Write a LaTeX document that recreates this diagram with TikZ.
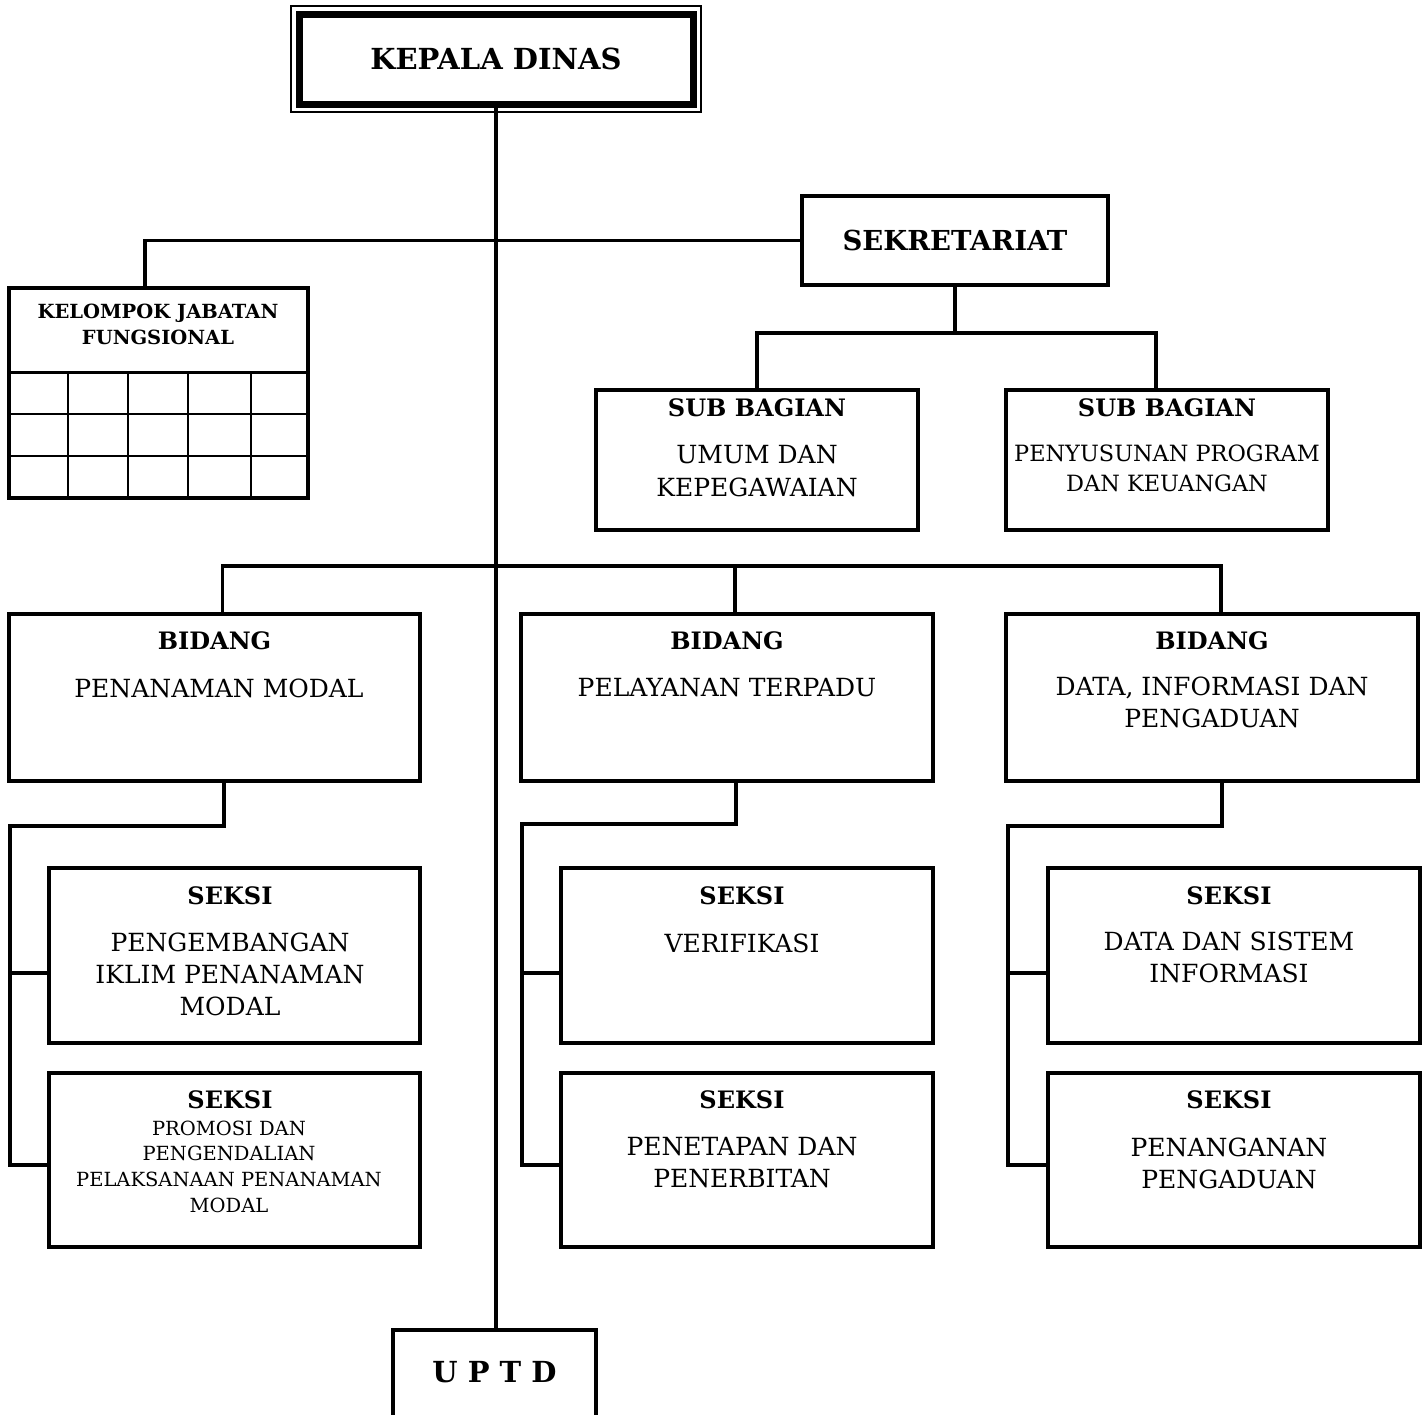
\documentclass[tikz,border=0pt]{standalone}
\usepackage{fontspec}
\setmainfont{DejaVu Serif}
\newcommand{\fs}[2]{\fontsize{#1}{#2}\selectfont}
\tikzset{
  box/.style={draw, line width=3.5pt, outer sep=0pt, inner sep=0pt, minimum width=#1},
  conn/.style={line width=3.5pt, line cap=rect},
  hd/.style={font=\bfseries\fs{24}{28}, inner sep=0pt},
  bd/.style={font=\fs{25}{32}, align=center, inner sep=0pt},
}
\begin{document}
\begin{tikzpicture}[x=1pt,y=-1pt]
\useasboundingbox (0,0) rectangle (1427,1414);
\clip (0,0) rectangle (1427,1414);
% top
\node[box=394pt, line width=7pt, minimum height=90pt, font=\bfseries\fs{29}{34}] (kd) at (496,59) {KEPALA DINAS};
\draw[line width=1.3pt] ([shift={(-8pt,8pt)}]kd.north west) rectangle ([shift={(8pt,-8pt)}]kd.south east);
\node[box=306pt, minimum height=89pt, font=\bfseries\fs{27.5}{32}] (sek) at (955,240.5) {SEKRETARIAT};
% kelompok jabatan fungsional
\node[box=299pt, minimum height=210pt] (kjf) at (158.5,393) {};
\node[font=\bfseries\fs{19.5}{26}, align=center, inner sep=0pt] (tkjf) at (158,324) {KELOMPOK JABATAN\\FUNGSIONAL};
\draw[line width=3pt] (9,372) -- (308,372);
\draw[line width=2pt] (9,414) -- (308,414) (9,456) -- (308,456);
\foreach \gx in {68,128,188,251} \draw[line width=2pt] (\gx,372) -- (\gx,498);
% sub bagian
\node[box=322pt, minimum height=140pt] (sb1) at (757,460) {};
\node[box=322pt, minimum height=140pt] (sb2) at (1167,460) {};
\node[hd] (hsb1) at (757,408) {SUB BAGIAN};
\node[hd] (hsb2) at (1167,408) {SUB BAGIAN};
\node[bd, font=\fs{25}{33}] (tsb1) at (757,471.5) {UMUM DAN\\KEPEGAWAIAN};
\node[bd, font=\fs{22.4}{30}] (tsb2) at (1167,468) {PENYUSUNAN PROGRAM\\DAN KEUANGAN};
% bidang
\node[box=411pt, minimum height=167pt] (bd1) at (214.5,697.5) {};
\node[box=412pt, minimum height=167pt] (bd2) at (727,697.5) {};
\node[box=412pt, minimum height=167pt] (bd3) at (1212,697.5) {};
\node[hd] (hbd1) at (214.5,641) {BIDANG};
\node[hd] (hbd2) at (727,641) {BIDANG};
\node[hd] (hbd3) at (1212,641) {BIDANG};
\node[bd] (tbd1) at (219,688) {PENANAMAN MODAL};
\node[bd] (tbd2) at (727,688) {PELAYANAN TERPADU};
\node[bd] (tbd3) at (1212,702.5) {DATA, INFORMASI DAN\\PENGADUAN};
% seksi
\node[box=371pt, minimum height=175pt] (sk11) at (234.5,955.5) {};
\node[box=371pt, minimum height=174pt] (sk12) at (234.5,1160) {};
\node[box=372pt, minimum height=175pt] (sk21) at (747,955.5) {};
\node[box=372pt, minimum height=174pt] (sk22) at (747,1160) {};
\node[box=372pt, minimum height=175pt] (sk31) at (1234,955.5) {};
\node[box=372pt, minimum height=174pt] (sk32) at (1234,1160) {};
\foreach \n/\xx in {11/230,21/742,31/1229} \node[hd] (hsk\n) at (\xx,896) {SEKSI};
\foreach \n/\xx in {12/230,22/742,32/1229} \node[hd] (hsk\n) at (\xx,1100) {SEKSI};
\node[bd] (tsk11) at (230,974) {PENGEMBANGAN\\IKLIM PENANAMAN\\MODAL};
\node[bd] (tsk21) at (742,943) {VERIFIKASI};
\node[bd] (tsk31) at (1229,957.5) {DATA DAN SISTEM\\INFORMASI};
\node[bd, font=\fs{19.5}{25.7}] (tsk12) at (229,1166.5) {PROMOSI DAN\\PENGENDALIAN\\PELAKSANAAN PENANAMAN\\MODAL};
\node[bd] (tsk22) at (742,1163) {PENETAPAN DAN\\PENERBITAN};
\node[bd] (tsk32) at (1229,1163) {PENANGANAN\\PENGADUAN};
% uptd
\node[box=203pt, minimum height=110pt] (uptd) at (494.5,1385) {};
\node[font=\bfseries\fs{29}{34}, inner sep=0pt] (tuptd) at (494.5,1372) {U P T D};
% connectors
\coordinate (sbj) at (955,333);
\coordinate (bj) at (496,566);
\draw[conn] (kd.south) -- (kd.south |- uptd.north);
\draw[conn] (sek.west) -| ([xshift=-13.5pt]kjf.north);
\draw[conn] (sek.south) -- (sbj);
\draw[conn] (sb1.north) |- ([xshift=-11pt]sb2.north |- sbj) -- ([xshift=-11pt]sb2.north);
\draw[conn] ([xshift=8pt]bd1.north) |- ([xshift=9pt]bd3.north |- bj) -- ([xshift=9pt]bd3.north);
\draw[conn] (bd2.north |- bj) ++(8pt,0) -- ([xshift=8pt]bd2.north);
\coordinate (c1) at (10,826);
\coordinate (c2) at (522,824);
\coordinate (c3) at (1008,826);
\draw[conn] ([xshift=9.5pt]bd1.south) |- (c1) |- ([yshift=-5pt]sk12.west);
\draw[conn] ([yshift=-17.5pt]sk11.west) -- ([yshift=-17.5pt]sk11.west -| c1);
\draw[conn] ([xshift=9pt]bd2.south) |- (c2) |- ([yshift=-5pt]sk22.west);
\draw[conn] ([yshift=-17.5pt]sk21.west) -- ([yshift=-17.5pt]sk21.west -| c2);
\draw[conn] ([xshift=10pt]bd3.south) |- (c3) |- ([yshift=-5pt]sk32.west);
\draw[conn] ([yshift=-17.5pt]sk31.west) -- ([yshift=-17.5pt]sk31.west -| c3);
\end{tikzpicture}
\end{document}
